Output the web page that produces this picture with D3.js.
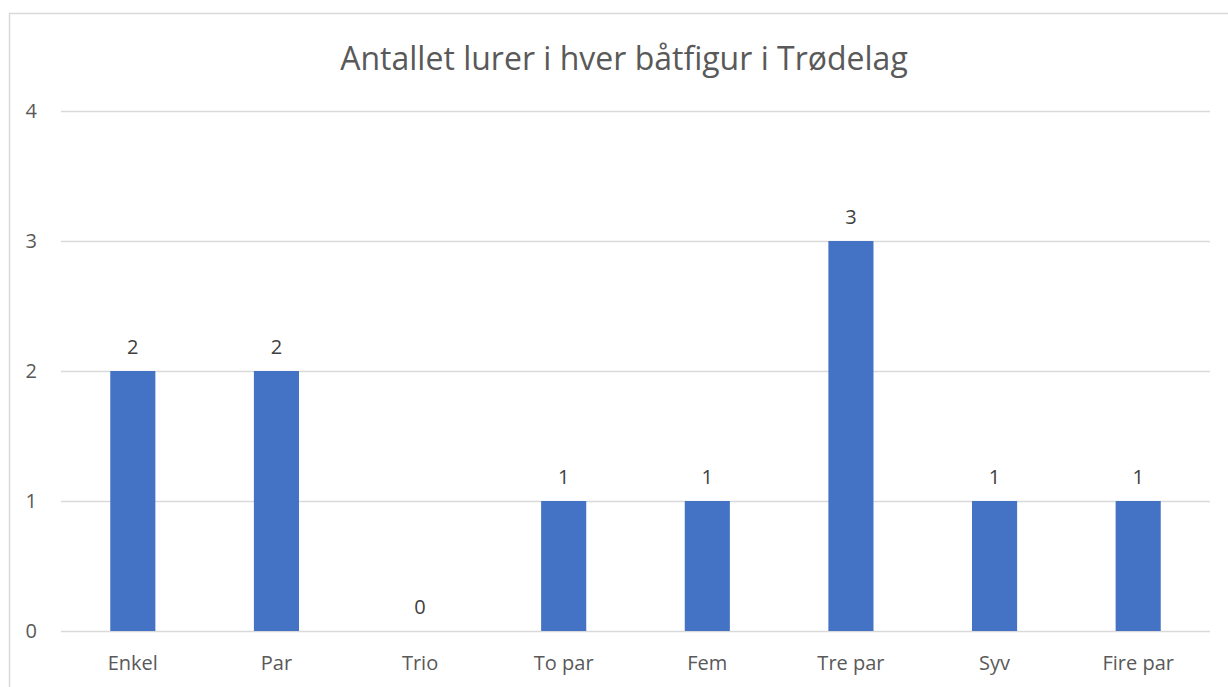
<!DOCTYPE html>
<html>
<head>
<meta charset="utf-8">
<script src="https://cdn.jsdelivr.net/npm/d3@7"></script>
<style>
  body { margin: 0; background: #fff; }
  svg { display: block; font-family: "Open Sans", "Noto Sans", sans-serif; }
</style>
</head>
<body>
<svg id="chart" width="1228" height="687"></svg>
<script>
const categories = ["Enkel", "Par", "Trio", "To par", "Fem", "Tre par", "Syv", "Fire par"];
const values = [2, 2, 0, 1, 1, 3, 1, 1];
const yTicks = [0, 1, 2, 3, 4];
const title = "Antallet lurer i hver båtfigur i Trødelag";

const svg = d3.select("#chart");
const margin = { top: 111, right: 18, bottom: 56, left: 61 };
const width = +svg.attr("width");
const height = +svg.attr("height");
const innerWidth = width - margin.left - margin.right;
const innerHeight = height - margin.top - margin.bottom;

// chart border - only top and left edges are visible in the original
svg.append("path")
  .attr("d", `M9.5,${height} V13.5 H${width}`)
  .attr("fill", "none")
  .attr("stroke", "#d9d9d9")
  .attr("stroke-width", 1.5);

svg.append("text")
  .attr("x", 624).attr("y", 70)
  .attr("text-anchor", "middle")
  .attr("fill", "#595959")
  .attr("font-size", 32)
  .text(title);

const x = d3.scaleBand()
  .domain(categories)
  .range([0, innerWidth])
  .padding(0);

const y = d3.scaleLinear()
  .domain([0, 4])
  .range([innerHeight, 0]);

const g = svg.append("g")
  .attr("transform", `translate(${margin.left},${margin.top})`);

// gridlines
g.append("g")
  .selectAll("line")
  .data(yTicks)
  .enter().append("line")
    .attr("x1", 0)
    .attr("x2", innerWidth)
    .attr("y1", d => Math.round(y(d)) + 0.5)
    .attr("y2", d => Math.round(y(d)) + 0.5)
    .attr("stroke", "#d9d9d9")
    .attr("stroke-width", 1.5);

// y tick labels
g.append("g")
  .selectAll("text")
  .data(yTicks)
  .enter().append("text")
    .attr("x", -24)
    .attr("y", d => y(d))
    .attr("dy", "0.35em")
    .attr("text-anchor", "end")
    .attr("fill", "#595959")
    .attr("font-size", 20)
    .text(d => d);

const barW = x.bandwidth() * 0.314;

g.selectAll("rect.bar")
  .data(values)
  .enter().append("rect")
    .attr("class", "bar")
    .attr("x", (d, i) => x(categories[i]) + x.bandwidth() / 2 - barW / 2)
    .attr("y", d => y(d))
    .attr("width", barW)
    .attr("height", d => innerHeight - y(d))
    .attr("fill", "#4472c4");

// data labels
g.selectAll("text.val")
  .data(values)
  .enter().append("text")
    .attr("class", "val")
    .attr("x", (d, i) => x(categories[i]) + x.bandwidth() / 2)
    .attr("y", d => y(d) - 24)
    .attr("dy", "0.35em")
    .attr("text-anchor", "middle")
    .attr("fill", "#404040")
    .attr("font-size", 20)
    .text(d => d);

// category labels
g.append("g")
  .selectAll("text")
  .data(categories)
  .enter().append("text")
    .attr("x", d => x(d) + x.bandwidth() / 2)
    .attr("y", innerHeight + 32)
    .attr("dy", "0.35em")
    .attr("text-anchor", "middle")
    .attr("fill", "#595959")
    .attr("font-size", 20)
    .text(d => d);
</script>
</body>
</html>
